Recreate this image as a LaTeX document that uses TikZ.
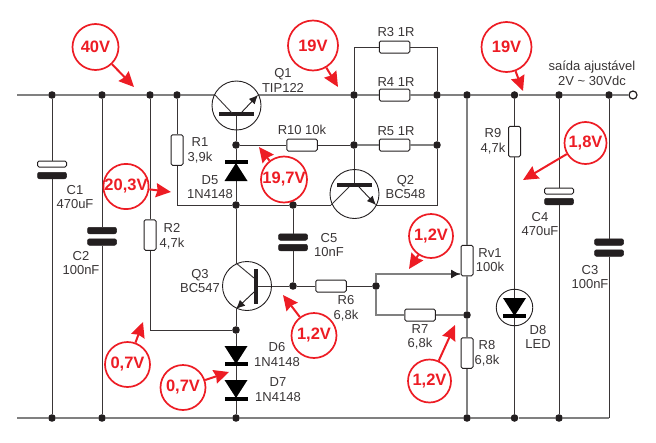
\documentclass[tikz,border=0pt]{standalone}
\usepackage{fontspec}
\setmainfont{Liberation Sans}
\usetikzlibrary{arrows.meta}
\definecolor{inkdark}{HTML}{231F20}
\definecolor{railgray}{HTML}{808080}
\definecolor{tagred}{HTML}{ED1C24}
\tikzset{
    wire/.style={draw=inkdark!90, line width=0.9pt},
    rail/.style={draw=railgray, line width=1.4pt},
    dot/.style={circle, fill=inkdark, minimum size=7.6pt, inner sep=0pt},
    resh/.style={draw=inkdark, fill=white, rounded corners=1.5pt, line width=1pt, minimum width=30.5pt, minimum height=12pt, inner sep=0pt},
    resv/.style={draw=inkdark, fill=white, rounded corners=1.5pt, line width=1pt, minimum width=12pt, minimum height=30.5pt, inner sep=0pt},
    platew/.style={draw=inkdark, fill=white, rounded corners=1.5pt, line width=1pt, minimum width=29pt, minimum height=6pt, inner sep=0pt},
    plateb/.style={draw=inkdark, fill=inkdark, rounded corners=2pt, line width=0.5pt, minimum width=29pt, minimum height=6.5pt, inner sep=0pt},
    qbody/.style={draw=inkdark, circle, line width=0.9pt, minimum size=49pt, inner sep=0pt},
    qbarh/.style={fill=inkdark, minimum width=35pt, minimum height=4pt, inner sep=0pt},
    qbarv/.style={fill=inkdark, minimum width=4pt, minimum height=35pt, inner sep=0pt},
    dbar/.style={fill=black, minimum width=23pt, minimum height=3.6pt, inner sep=0pt},
    lbl/.style={text=inkdark!90, font=\fontsize{13}{14.7}\selectfont, align=center, inner sep=0pt},
    tag/.style={draw=tagred, circle, line width=1.7pt, fill=white, text=tagred, inner sep=0pt, font=\fontsize{16.5}{18}\selectfont\bfseries},
    tagarrow/.style={draw=tagred, line width=2pt, -{Stealth[length=15pt, width=14pt, inset=1.5pt]}},
    qarrow/.style={draw=inkdark, line width=0.9pt, -{Latex[length=9pt, width=8pt]}}
}
\begin{document}
\begin{tikzpicture}[x=1pt, y=-1pt]
    \useasboundingbox (0, 0) rectangle (656, 442);

    \coordinate (railtl) at (17, 95);
    \coordinate (railbl) at (17, 418);
    \coordinate (railbr) at (609, 418);
    \coordinate (q1c) at (215, 95);
    \coordinate (q1ci) at (232, 113);
    \coordinate (q1e) at (258, 95);
    \coordinate (q1ei) at (241, 113);
    \coordinate (q1b) at (236, 114);
    \coordinate (q2c) at (331, 205);
    \coordinate (q2ci) at (349, 187);
    \coordinate (q2e) at (376, 205);
    \coordinate (q2ei) at (359, 187);
    \coordinate (q2b) at (354, 185);
    \coordinate (q3c) at (236, 263);
    \coordinate (q3ci) at (254, 278);
    \coordinate (q3e) at (236, 309);
    \coordinate (q3ei) at (254, 292);
    \coordinate (q3b) at (255, 286);
    \coordinate (wiper) at (460, 274);

    \node[dot] (jt1) at (52, 95) {};
    \node[dot] (jt2) at (102, 95) {};
    \node[dot] (jt3) at (150, 95) {};
    \node[dot] (jt4) at (177, 95) {};
    \node[dot] (jt5) at (354, 95) {};
    \node[dot] (jt6) at (437, 95) {};
    \node[dot] (jt7) at (467, 95) {};
    \node[dot] (jt8) at (514.5, 95) {};
    \node[dot] (jt9) at (559, 95) {};
    \node[dot] (jt10) at (609, 95) {};
    \node[dot] (jb1) at (52, 418) {};
    \node[dot] (jb2) at (102, 418) {};
    \node[dot] (jb3) at (236, 418) {};
    \node[dot] (jb4) at (467, 418) {};
    \node[dot] (jb5) at (514.5, 418) {};
    \node[dot] (jb6) at (559, 418) {};
    \node[dot] (jd5top) at (236, 145) {};
    \node[dot] (jd5low) at (236, 205) {};
    \node[dot] (jc5top) at (293, 205) {};
    \node[dot] (jc5low) at (293, 286) {};
    \node[dot] (jr5l) at (354, 145) {};
    \node[dot] (jr5r) at (437, 145) {};
    \node[dot] (jr6) at (376, 286) {};
    \node[dot] (jr7) at (467, 315) {};
    \node[dot] (jq3) at (236, 330) {};

    \node[resh] (r3) at (394.5, 47) {};
    \node[resh] (r4) at (394.5, 95) {};
    \node[resh] (r5) at (394.5, 145) {};
    \node[resh] (r10) at (302, 145) {};
    \node[resh] (r6) at (331, 286) {};
    \node[resh] (r7) at (420, 315) {};
    \node[resv] (r1) at (177, 150) {};
    \node[resv] (r2) at (150, 235) {};
    \node[resv] (rv1) at (467, 260.5) {};
    \node[resv] (r8) at (467, 353) {};
    \node[resv] (r9) at (514.5, 141.5) {};

    \node[platew] (c1a) at (52, 164) {};
    \node[plateb] (c1b) at (52, 175.5) {};
    \node[plateb] (c2a) at (102, 230.5) {};
    \node[plateb] (c2b) at (102, 242) {};
    \node[plateb] (c5a) at (293, 237) {};
    \node[plateb] (c5b) at (293, 247.5) {};
    \node[platew] (c4a) at (559, 191) {};
    \node[plateb] (c4b) at (559, 201.5) {};
    \node[plateb] (c3a) at (609, 242) {};
    \node[plateb] (c3b) at (609, 253) {};

    \node[draw=inkdark, circle, line width=1.2pt, fill=white, minimum size=8pt, inner sep=0pt] (out) at (633, 95) {};

    \draw[rail] (railtl) -- (jt1) -- (jt2) -- (jt3) -- (jt4) -- (q1c);
    \draw[rail] (q1e) -- (jt5) -- (r4) -- (jt6) -- (jt7) -- (jt8) -- (jt9) -- (jt10) -- (out);
    \draw[rail] (railbl) -- (jb1) -- (jb2) -- (jb3) -- (jb4) -- (jb5) -- (jb6) -- (railbr);
    \draw[wire] (jt1) -- (c1a);
    \draw[wire] (c1b) -- (jb1);
    \draw[wire] (jt2) -- (c2a);
    \draw[wire] (c2b) -- (jb2);
    \draw[wire] (jt3) -- (r2);
    \draw[wire] (r2) |- (jq3);
    \draw[wire] (jt4) -- (r1);
    \draw[wire] (r1) |- (jd5low);
    \draw[wire] (jd5top) -- (q1b);
    \draw[wire] (jd5top) -- (jd5low);
    \draw[wire] (jd5top) -- (r10);
    \draw[wire] (r10) -- (jr5l);
    \draw[rail] (jr5l) -- (r5) -- (jr5r);
    \draw[wire] (jt5) -- (jr5l);
    \draw[wire] (jr5l) -- (q2b);
    \draw[wire] (jt5) |- (r3);
    \draw[wire] (r3) -| (jt6);
    \draw[wire] (jt6) -- (jr5r);
    \draw[wire] (jr5r) |- (q2e);
    \draw[wire] (jd5low) -- (jc5top);
    \draw[wire] (jc5top) -- (q2c);
    \draw[wire] (jc5top) -- (c5a);
    \draw[wire] (c5b) -- (jc5low);
    \draw[wire] (jd5low) -- (q3c);
    \draw[wire] (q3b) -- (jc5low);
    \draw[wire] (jc5low) -- (r6);
    \draw[wire] (r6) -- (jr6);
    \draw[rail] (jr6) |- (wiper);
    \draw[rail] (jr6) |- (r7);
    \draw[rail] (r7) -- (jr7);
    \draw[rail] (jt7) -- (rv1);
    \draw[rail] (rv1) -- (jr7);
    \draw[rail] (jr7) -- (r8);
    \draw[rail] (r8) -- (jb4);
    \draw[wire] (jt8) -- (r9);
    \draw[wire] (r9) -- (jb5);
    \draw[wire] (jt9) -- (c4a);
    \draw[wire] (c4b) -- (jb6);
    \draw[wire] (jt10) -- (c3a);
    \draw[wire] (c3b) -- (railbr);
    \draw[wire] (q3e) -- (jq3);
    \draw[wire] (jq3) -- (jb3);

    \draw[inkdark, -{Latex[length=9pt, width=9pt]}, line width=0.9pt] (wiper) ++(-9, 0) -- (wiper);

    \node[qbody] (q1) at (236.5, 105.5) {};
    \node[qbarh] (q1bar) at (236.5, 114) {};
    \draw[wire] (q1c) -- (q1ci);
    \draw[qarrow] (q1ei) -- (q1e);
    \node[qbody] (q2) at (354.5, 194) {};
    \node[qbarh] (q2bar) at (354.5, 185) {};
    \draw[wire] (q2ci) -- (q2c);
    \draw[qarrow] (q2ei) -- (q2e);
    \node[qbody] (q3) at (247, 286) {};
    \node[qbarv] (q3bar) at (255.5, 286) {};
    \draw[wire] (q3c) -- (q3ci);
    \draw[qarrow] (q3ei) -- (q3e);

    \node[dbar] (d5bar) at (236, 162) {};
    \fill[black] (224.5, 181) -- (247.5, 181) -- (236, 163) -- cycle;
    \fill[black] (224.5, 346) -- (247.5, 346) -- (236, 364) -- cycle;
    \node[dbar] (d6bar) at (236, 364) {};
    \fill[black] (224.5, 380) -- (247.5, 380) -- (236, 398) -- cycle;
    \node[dbar] (d7bar) at (236, 399) {};
    \node[draw=inkdark, circle, line width=0.9pt, minimum size=36.5pt, inner sep=0pt] (d8) at (514.5, 307.5) {};
    \fill[black] (503, 298) -- (526, 298) -- (514.5, 316) -- cycle;
    \node[dbar] (d8bar) at (514.5, 316) {};

    \node[lbl] (lc1) at (75, 197) {C1\\470uF};
    \node[lbl] (lc2) at (81, 263) {C2\\100nF};
    \node[lbl] (lc3) at (590, 277) {C3\\100nF};
    \node[lbl] (lc4) at (540, 224) {C4\\470uF};
    \node[lbl] (lc5) at (329, 245) {C5\\10nF};
    \node[lbl] (lr1) at (200, 150.5) {R1\\3,9k};
    \node[lbl] (lr2) at (172, 236) {R2\\4,7k};
    \node[lbl] (lr3) at (396, 32) {R3 1R};
    \node[lbl] (lr4) at (396, 82) {R4 1R};
    \node[lbl] (lr5) at (396, 131) {R5 1R};
    \node[lbl] (lr6) at (346, 308.5) {R6\\6,8k};
    \node[lbl] (lr7) at (420, 337) {R7\\6,8k};
    \node[lbl] (lr8) at (487, 353.5) {R8\\6,8k};
    \node[lbl] (lr9) at (493, 141) {R9\\4,7k};
    \node[lbl] (lr10) at (302, 130) {R10 10k};
    \node[lbl] (lrv1) at (490, 260) {Rv1\\100k};
    \node[lbl] (ld5) at (210, 187) {D5\\1N4148};
    \node[lbl] (ld6) at (277, 354.5) {D6\\1N4148};
    \node[lbl] (ld7) at (278, 389.5) {D7\\1N4148};
    \node[lbl] (ld8) at (538, 337) {D8\\LED};
    \node[lbl] (lq1) at (283, 80.5) {Q1\\TIP122};
    \node[lbl] (lq2) at (405.5, 187) {Q2\\BC548};
    \node[lbl] (lq3) at (200, 281) {Q3\\BC547};
    \node[lbl] (lout) at (592, 73) {saída ajustável\\2V \char`~{} 30Vdc};

    \coordinate (t40) at (134, 87);
    \coordinate (t19a) at (338, 87);
    \coordinate (t19b) at (523, 91);
    \coordinate (t18) at (523, 180);
    \coordinate (t203) at (171, 192);
    \coordinate (t197) at (259, 147);
    \coordinate (t12a) at (409, 269);
    \coordinate (t12b) at (455, 325);
    \coordinate (t12c) at (283, 295);
    \coordinate (t07a) at (143, 322);
    \coordinate (t07b) at (229, 372);

    \node[tag, minimum size=46pt] (v40) at (95.5, 47) {40V};
    \node[tag, minimum size=50pt] (v19a) at (313, 45.5) {19V};
    \node[tag, minimum size=50pt] (v19b) at (506.5, 47) {19V};
    \node[tag, minimum size=42pt] (v18) at (585.5, 143) {1,8V};
    \node[tag, minimum size=44pt] (v203) at (126, 186.5) {20,3V};
    \node[tag, minimum size=46pt] (v197) at (284, 179.5) {19,7V};
    \node[tag, minimum size=44pt] (v12a) at (431, 236) {1,2V};
    \node[tag, minimum size=43pt] (v12b) at (429.5, 381) {1,2V};
    \node[tag, minimum size=45pt] (v12c) at (314, 335.5) {1,2V};
    \node[tag, minimum size=45pt] (v07a) at (127.5, 364.5) {0,7V};
    \node[tag, minimum size=45pt] (v07b) at (183, 387.5) {0,7V};

    \draw[tagarrow] (v40) -- (t40);
    \draw[tagarrow] (v19a) -- (t19a);
    \draw[tagarrow] (v19b) -- (t19b);
    \draw[tagarrow] (v18) -- (t18);
    \draw[tagarrow] (v203) -- (t203);
    \draw[tagarrow] (v197) -- (t197);
    \draw[tagarrow] (v12a) -- (t12a);
    \draw[tagarrow] (v12b) -- (t12b);
    \draw[tagarrow] (v12c) -- (t12c);
    \draw[tagarrow] (v07a) -- (t07a);
    \draw[tagarrow] (v07b) -- (t07b);
\end{tikzpicture}
\end{document}
